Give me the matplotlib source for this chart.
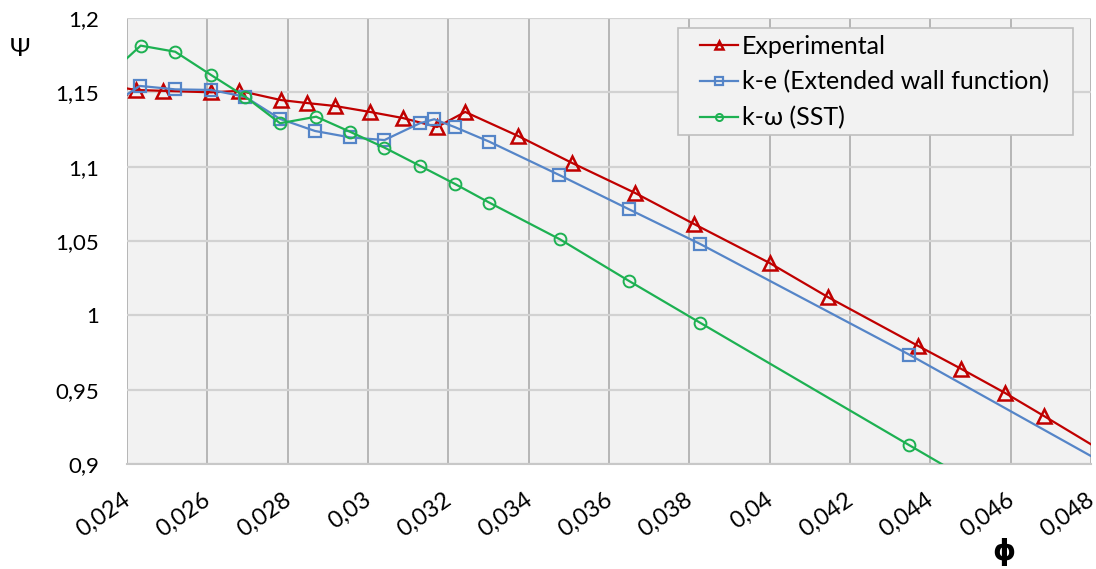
import matplotlib
matplotlib.use("Agg")
from matplotlib import pyplot as plt
from matplotlib.patches import Rectangle
from matplotlib.ticker import FixedLocator, FuncFormatter
from matplotlib.transforms import ScaledTranslation

plt.rcParams['font.family'] = ['Lato', 'DejaVu Sans']

# Experimental (first and last points lie just outside the axes)
exp_phi = [0.0238, 0.02422, 0.0249, 0.0261, 0.0268, 0.02783, 0.02848, 0.02918,
           0.03005, 0.03087, 0.03172, 0.03242, 0.03374, 0.03508, 0.03665,
           0.03812, 0.0400, 0.04145, 0.0437, 0.04477, 0.04586, 0.04683, 0.0490]
exp_psi = [1.1535, 1.1516, 1.151, 1.150, 1.151, 1.1448, 1.1428, 1.1408,
           1.1368, 1.1327, 1.1267, 1.1368, 1.1206, 1.1025, 1.0823,
           1.0614, 1.0352, 1.0123, 0.9794, 0.964, 0.9478, 0.9323, 0.897]

# k-e (Extended wall function)
ke_phi = [0.0238, 0.02432, 0.0252, 0.02609, 0.02694, 0.02781, 0.02868, 0.02955,
          0.03041, 0.03129, 0.03165, 0.03217, 0.03302, 0.03476, 0.0365,
          0.03827, 0.04348, 0.0490]
ke_psi = [1.145, 1.1543, 1.152, 1.1516, 1.147, 1.1321, 1.124, 1.1197,
          1.1179, 1.1292, 1.1319, 1.1265, 1.1168, 1.0944, 1.0713,
          1.048, 0.9735, 0.8903]

# k-w (SST)
kw_phi = [0.0238, 0.02434, 0.0252, 0.02609, 0.02694, 0.02781, 0.02871, 0.02955,
          0.03041, 0.03129, 0.03217, 0.03302, 0.03478, 0.0365, 0.03827,
          0.04348, 0.0460]
kw_psi = [1.168, 1.1814, 1.1773, 1.1617, 1.1471, 1.1292, 1.1336, 1.1235,
          1.1128, 1.1006, 1.0883, 1.0758, 1.0511, 1.0231, 0.995,
          0.9126, 0.873]

x_ticks = [0.024, 0.026, 0.028, 0.03, 0.032, 0.034, 0.036, 0.038,
           0.04, 0.042, 0.044, 0.046, 0.048]
y_ticks = [0.9, 0.95, 1.0, 1.05, 1.1, 1.15, 1.2]


def comma(v, pos=None):
    s = ('%.3f' % v).rstrip('0').rstrip('.')
    return s.replace('.', ',')


fig = plt.figure(figsize=(10.96, 5.69), dpi=100)
ax = fig.add_axes([0.1159, 0.1845, 0.8795, 0.7839])
ax.set_facecolor('#f2f2f2')

ax.plot(exp_phi, exp_psi, color='#c00000', lw=1.6, marker='^', ms=10,
        mfc='none', mec='#c00000', mew=1.8, label='Experimental', zorder=3)
ax.plot(ke_phi, ke_psi, color='#5585c8', lw=1.6, marker='s', ms=8.5,
        mfc='none', mec='#5585c8', mew=1.6,
        label='k-e (Extended wall function)', zorder=3)
ax.plot(kw_phi, kw_psi, color='#1db152', lw=1.6, marker='o', ms=8.5,
        mfc='none', mec='#1db152', mew=1.4, label='k-ω (SST)', zorder=3)

ax.set_xlim(0.024, 0.048)
ax.set_ylim(0.9, 1.2)
ax.xaxis.set_major_locator(FixedLocator(x_ticks))
ax.yaxis.set_major_locator(FixedLocator(y_ticks))
ax.xaxis.set_major_formatter(FuncFormatter(comma))
ax.yaxis.set_major_formatter(FuncFormatter(comma))

ax.grid(axis='x', color='#a6a6a6', lw=1.1)
ax.grid(axis='y', color='#d2d2d2', lw=1.6)
ax.set_axisbelow(True)
for side in ['left', 'right', 'top']:
    ax.spines[side].set_visible(False)
ax.spines['bottom'].set_color('#c8c8c8')
ax.spines['bottom'].set_linewidth(1.5)

ax.tick_params(axis='both', length=0, labelsize=16, colors='#000000')
ax.tick_params(axis='x', pad=18, labelsize=17)
ax.tick_params(axis='y', pad=20)
shift = ScaledTranslation(-5 / 100, 0, fig.dpi_scale_trans)
for lab in ax.get_xticklabels():
    lab.set_rotation(35)
    lab.set_ha('right')
    lab.set_va('top')
    lab.set_rotation_mode('anchor')
    lab.set_transform(lab.get_transform() + shift)

fig.text(0.009, 0.915, 'Ψ', fontsize=18, ha='left', va='center')
fig.text(0.916, 0.03, 'ϕ', fontsize=21, fontweight='bold',
         ha='center', va='center', family=['DejaVu Sans'])

# legend box drawn separately so its padding can match
ax.add_patch(Rectangle((0.5716, 0.7377), 0.4097, 0.2399, transform=ax.transAxes,
                       fc='#f2f2f2', ec='#bfbfbf', lw=1.2, zorder=4))
leg = ax.legend(loc='upper left', bbox_to_anchor=(0.5944, 0.962),
                fontsize=18, frameon=False, borderpad=0, borderaxespad=0,
                handlelength=1.52, handletextpad=0.16, labelspacing=0.5,
                markerscale=0.6)
leg.set_zorder(5)

fig.savefig('out.png', dpi=100)
